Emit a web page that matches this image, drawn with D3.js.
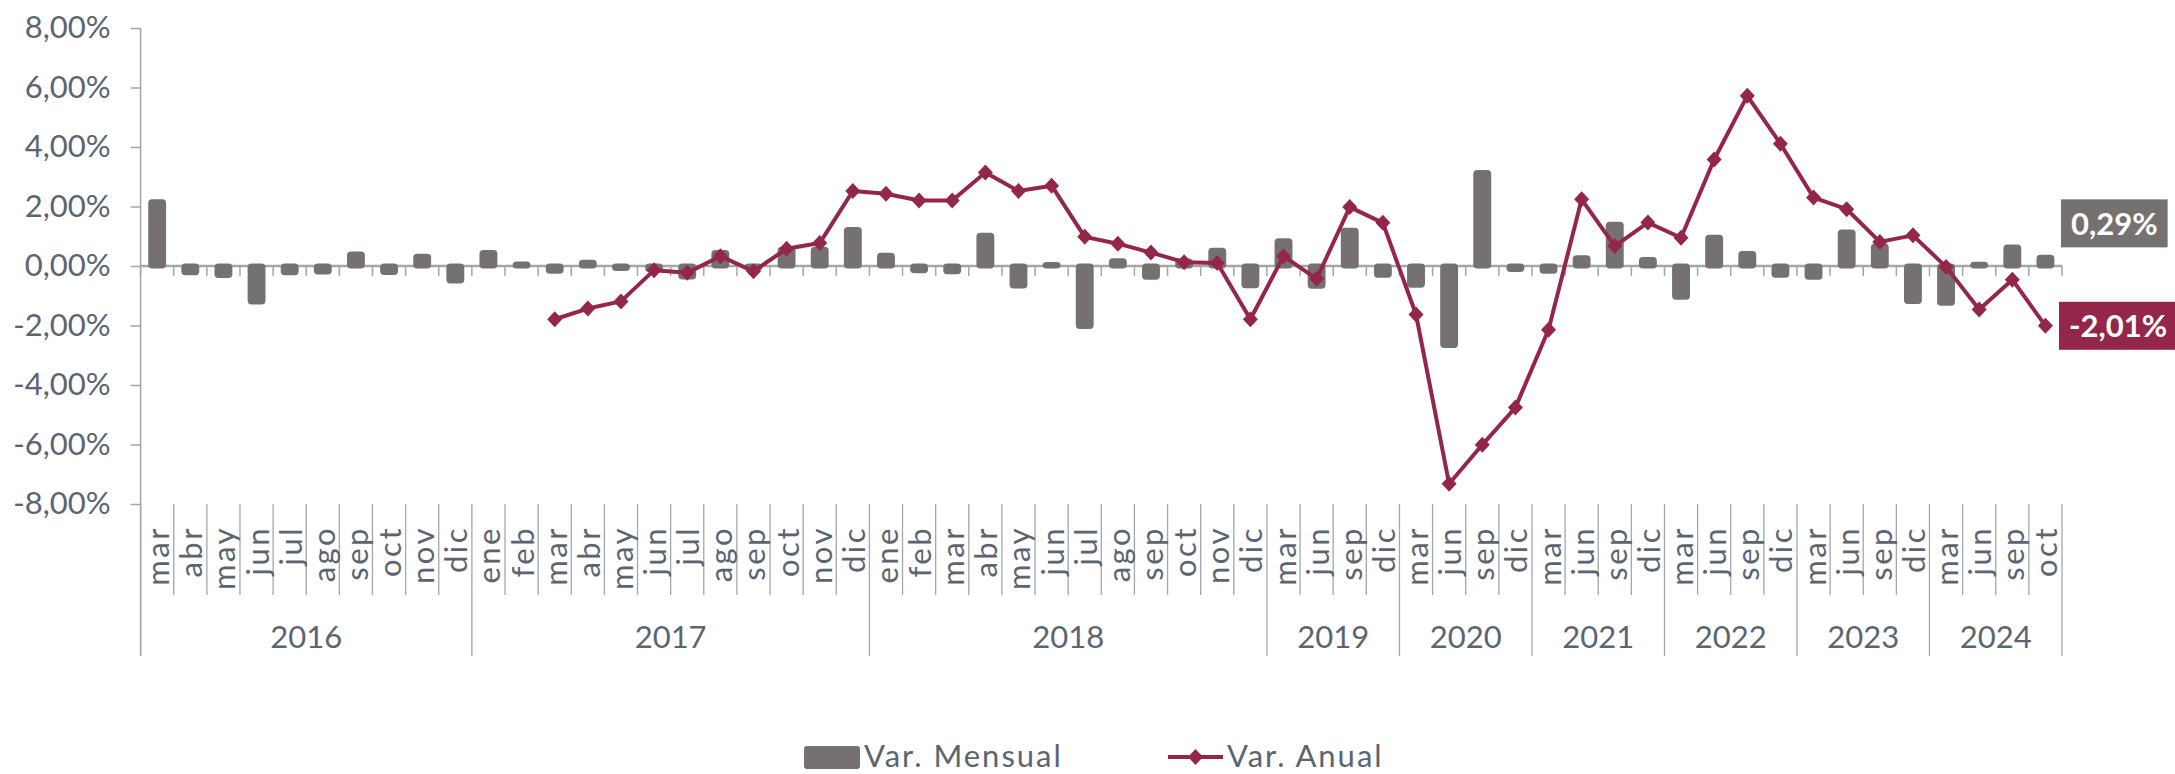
<!DOCTYPE html>
<html>
<head>
<meta charset="utf-8">
<script src="https://cdn.jsdelivr.net/npm/d3@7"></script>
<style>
  body { margin: 0; background: #fff; }
  svg text { font-family: Lato, "Open Sans", sans-serif; }
</style>
</head>
<body>
<div id="chart"></div>
<script>
// Chart data
var years = ["2016", "2017", "2018", "2019", "2020", "2021", "2022", "2023", "2024"];
var monthsByYear = [
  ["mar", "abr", "may", "jun", "jul", "ago", "sep", "oct", "nov", "dic"],
  ["ene", "feb", "mar", "abr", "may", "jun", "jul", "ago", "sep", "oct", "nov", "dic"],
  ["ene", "feb", "mar", "abr", "may", "jun", "jul", "ago", "sep", "oct", "nov", "dic"],
  ["mar", "jun", "sep", "dic"],
  ["mar", "jun", "sep", "dic"],
  ["mar", "jun", "sep", "dic"],
  ["mar", "jun", "sep", "dic"],
  ["mar", "jun", "sep", "dic"],
  ["mar", "jun", "sep", "oct"]
];
var varMensual = [
  2.16, -0.23, -0.32, -1.21, -0.23, -0.20, 0.40, -0.22, 0.33, -0.50,
  0.45, 0.07, -0.18, 0.13, -0.08, -0.12, -0.37, 0.45, -0.08, 0.56, 0.56, 1.23,
  0.36, -0.16, -0.19, 1.03, -0.67, 0.05, -2.03, 0.18, -0.38, 0.17, 0.53, -0.66,
  0.85, -0.68, 1.20, -0.31,
  -0.65, -2.67, 3.14, -0.12,
  -0.18, 0.28, 1.40, 0.22,
  -1.05, 0.97, 0.42, -0.31,
  -0.38, 1.14, 0.67, -1.19,
  -1.25, 0.06, 0.64, 0.29
];
var varAnual = [
  null, null, null, null, null, null, null, null, null, null,
  null, null, -1.79, -1.43, -1.19, -0.14, -0.23, 0.33, -0.18, 0.58, 0.77, 2.52,
  2.43, 2.20, 2.20, 3.14, 2.52, 2.70, 0.98, 0.75, 0.45, 0.13, 0.10, -1.79,
  0.33, -0.43, 1.98, 1.45,
  -1.63, -7.32, -6.01, -4.76,
  -2.14, 2.24, 0.67, 1.46,
  0.95, 3.58, 5.72, 4.11,
  2.30, 1.91, 0.81, 1.03,
  -0.03, -1.46, -0.46, -2.01
];
var yTicks = [-8, -6, -4, -2, 0, 2, 4, 6, 8];
var seriesNames = ["Var. Mensual", "Var. Anual"];

var barColor = "#767171";
var lineColor = "#942649";
var axisColor = "#a6a6a6";
var textColor = "#5b6572";

var width = 2175, height = 774;
var plot = { left: 140.6, right: 2062, top: 28, bottom: 504 };

// flatten the two-level categories
var cats = [];
monthsByYear.forEach(function(ms, yi) {
  ms.forEach(function(m, mi) {
    cats.push({ key: years[yi] + "-" + m, month: m, year: years[yi], first: mi === 0 });
  });
});
cats.forEach(function(c, i) { c.bar = varMensual[i]; c.line = varAnual[i]; });

var svg = d3.select("#chart").append("svg")
    .attr("width", width)
    .attr("height", height);

var x = d3.scaleBand()
    .domain(cats.map(function(c) { return c.key; }))
    .range([plot.left, plot.right]);
var y = d3.scaleLinear().domain([-8, 8]).range([plot.bottom, plot.top]);
var bw = x.bandwidth();

function pct(v) { return v.toFixed(2).replace(".", ",") + "%"; }

// Y axis
var yAxis = svg.append("g")
    .attr("transform", "translate(" + plot.left + ",0)")
    .call(d3.axisLeft(y).tickValues(yTicks).tickSize(10).tickPadding(20).tickFormat(pct));
yAxis.select(".domain").remove();
yAxis.selectAll(".tick line").attr("stroke", axisColor).attr("stroke-width", 1.5);
yAxis.selectAll(".tick text")
    .attr("fill", textColor)
    .style("font-size", "31px");

svg.append("line")
    .attr("x1", plot.left).attr("x2", plot.left)
    .attr("y1", plot.top).attr("y2", 656)
    .attr("stroke", axisColor).attr("stroke-width", 1.5);

// zero line with ticks at category boundaries
var bounds = cats.map(function(c) { return { x: x(c.key), year: c.first }; });
bounds.push({ x: plot.right, year: true });

svg.append("line")
    .attr("x1", plot.left).attr("x2", plot.right)
    .attr("y1", y(0)).attr("y2", y(0))
    .attr("stroke", axisColor).attr("stroke-width", 2.5);

svg.selectAll(".zt")
    .data(bounds)
  .enter().append("line")
    .attr("class", "zt")
    .attr("x1", function(d) { return d.x; }).attr("x2", function(d) { return d.x; })
    .attr("y1", y(0)).attr("y2", y(0) + 10)
    .attr("stroke", axisColor).attr("stroke-width", 1.5);

// category separators below the plot
svg.selectAll(".sep")
    .data(bounds)
  .enter().append("line")
    .attr("class", "sep")
    .attr("x1", function(d) { return d.x; }).attr("x2", function(d) { return d.x; })
    .attr("y1", plot.bottom)
    .attr("y2", function(d) { return d.year ? 656 : 595; })
    .attr("stroke", axisColor).attr("stroke-width", 1.3);

// month labels
svg.selectAll(".month")
    .data(cats)
  .enter().append("text")
    .attr("class", "month")
    .attr("transform", function(d) {
      return "translate(" + (x(d.key) + bw / 2 + 12) + ",526) rotate(-90)";
    })
    .attr("text-anchor", "end")
    .attr("fill", textColor)
    .style("font-size", "31px")
    .style("letter-spacing", "2.5px")
    .text(function(d) { return d.month; });

// year labels
svg.selectAll(".year")
    .data(years)
  .enter().append("text")
    .attr("class", "year")
    .attr("x", function(yr) {
      var ks = cats.filter(function(c) { return c.year === yr; });
      return (x(ks[0].key) + x(ks[ks.length - 1].key) + bw) / 2;
    })
    .attr("y", 648)
    .attr("text-anchor", "middle")
    .attr("fill", textColor)
    .style("font-size", "31px")
    .text(function(d) { return d; });

// bars
var barW = bw * 0.54;
svg.selectAll(".bar")
    .data(cats)
  .enter().append("rect")
    .attr("class", "bar")
    .attr("x", function(d) { return x(d.key) + (bw - barW) / 2; })
    .attr("width", barW)
    .attr("y", function(d) { return y(Math.max(d.bar, 0)) - 2.5; })
    .attr("height", function(d) { return Math.abs(y(d.bar) - y(0)) + 5; })
    .attr("rx", 4)
    .attr("fill", barColor);

// annual line
var line = d3.line()
    .defined(function(d) { return d.line != null; })
    .x(function(d) { return x(d.key) + bw / 2; })
    .y(function(d) { return y(d.line); });

svg.append("path")
    .datum(cats)
    .attr("fill", "none")
    .attr("stroke", lineColor)
    .attr("stroke-width", 4)
    .attr("stroke-linejoin", "round")
    .attr("d", line);

var diamond = "M0,-8L7.5,0L0,8L-7.5,0Z";
svg.selectAll(".mk")
    .data(cats.filter(function(c) { return c.line != null; }))
  .enter().append("path")
    .attr("class", "mk")
    .attr("transform", function(d) {
      return "translate(" + (x(d.key) + bw / 2) + "," + y(d.line) + ")";
    })
    .attr("d", diamond)
    .attr("fill", lineColor);

// labels for the last values
var last = cats[cats.length - 1];
var endLabels = [
  { v: last.bar, fill: barColor, x: plot.right - 1, dy: -34 },
  { v: last.line, fill: lineColor, x: plot.right - 3, dy: 0 }
];
endLabels.forEach(function(l) {
  var g = svg.append("g");
  var cy = y(l.v) + l.dy;
  var t = g.append("text")
      .attr("x", l.x + 10)
      .attr("y", cy)
      .attr("dy", "0.36em")
      .attr("fill", "#fff")
      .style("font-size", "31px")
      .style("font-weight", "bold")
      .text(pct(l.v));
  var bb = t.node().getBBox();
  g.insert("rect", "text")
      .attr("x", l.x)
      .attr("y", cy - 24)
      .attr("width", bb.width + 20)
      .attr("height", 48)
      .attr("fill", l.fill);
});

// legend
var leg = svg.append("g");
leg.append("rect")
    .attr("x", 804).attr("y", 746)
    .attr("width", 56).attr("height", 23)
    .attr("rx", 3)
    .attr("fill", barColor);
leg.append("text")
    .attr("x", 864).attr("y", 767)
    .attr("fill", textColor)
    .style("font-size", "31px")
    .style("letter-spacing", "2px")
    .text(seriesNames[0]);
leg.append("line")
    .attr("x1", 1168).attr("x2", 1223)
    .attr("y1", 757).attr("y2", 757)
    .attr("stroke", lineColor).attr("stroke-width", 4);
leg.append("path")
    .attr("transform", "translate(1195.5,757)")
    .attr("d", diamond)
    .attr("fill", lineColor);
leg.append("text")
    .attr("x", 1227).attr("y", 767)
    .attr("fill", textColor)
    .style("font-size", "31px")
    .style("letter-spacing", "2px")
    .text(seriesNames[1]);
</script>
</body>
</html>
